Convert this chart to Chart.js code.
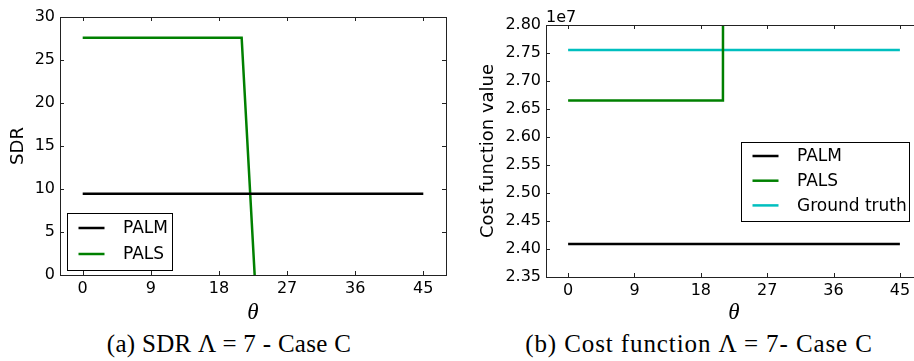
<!DOCTYPE html>
<html lang="en">
<head>
<meta charset="UTF-8">
<script src="https://cdn.jsdelivr.net/npm/chart.js"></script>
<title>SDR and cost function, Case C</title>
<style>
  html, body { margin: 0; padding: 0; background: #fff; }
  body { width: 914px; height: 361px; overflow: hidden; position: relative; }
  canvas { position: absolute; top: 0; }
  #sdrChart { left: 0; }
  #costChart { left: 460px; }
  .caption { position: absolute; top: 330px; font-family: 'Liberation Serif', serif; font-size: 25px; white-space: nowrap; transform: translateX(-50%); }
</style>
</head>
<body>
<canvas id="sdrChart" width="460" height="330"></canvas>
<canvas id="costChart" width="480" height="330"></canvas>
<div class="caption" style="left:229px; letter-spacing:0.3px">(a) SDR &Lambda; = 7 - Case C</div>
<div class="caption" style="left:699px; letter-spacing:0.9px">(b) Cost function &Lambda; = 7- Case C</div>

<script>
// values
const theta = [0, 21, 23, 45];
const sdrPALM = [9.45, 9.45, 9.45, 9.45];
const sdrPALS = [27.6, 27.6, -4.5, -4.5];
// cost values in units of 1e7
const costPALM = [2.409, 2.409, 2.409, 2.409];
const costPALS = [2.665, 2.665, 40, 40];
const costTruth = [2.7555, 2.7555, 2.7555, 2.7555];

const thetaTicks = [0, 9, 18, 27, 36, 45];
const sdrTicks = [0, 5, 10, 15, 20, 25, 30];
const costTicks = [2.35, 2.40, 2.45, 2.50, 2.55, 2.60, 2.65, 2.70, 2.75, 2.80];

Chart.defaults.font.family = 'DejaVu Sans';
Chart.defaults.font.size = 16;
Chart.defaults.color = '#000';

const pts = (xs, ys) => xs.map((v, i) => ({x: v, y: ys[i]}));

// box around the plot + inward tick marks (matplotlib classic look)
const framePlugin = {
  id: 'frame',
  afterDatasetsDraw(chart, args, opts) {
    const {ctx, chartArea: a, scales: {x, y}} = chart;
    ctx.save();
    ctx.strokeStyle = '#222';
    ctx.lineWidth = 1;
    ctx.strokeRect(Math.round(a.left) + 0.5, Math.round(a.top) + 0.5,
                   Math.round(a.right - a.left), Math.round(a.bottom - a.top));
    ctx.beginPath();
    x.ticks.forEach(t => {
      const px = Math.round(x.getPixelForValue(t.value)) + 0.5;
      ctx.moveTo(px, a.bottom); ctx.lineTo(px, a.bottom - 4);
      ctx.moveTo(px, a.top); ctx.lineTo(px, a.top + 4);
    });
    y.ticks.forEach(t => {
      const py = Math.round(y.getPixelForValue(t.value)) + 0.5;
      ctx.moveTo(a.left, py); ctx.lineTo(a.left + 4, py);
      ctx.moveTo(a.right, py); ctx.lineTo(a.right - 4, py);
    });
    ctx.stroke();
    if (opts.offsetText) {
      ctx.fillStyle = '#000';
      ctx.font = '16px "DejaVu Sans"';
      ctx.textAlign = 'left';
      ctx.textBaseline = 'alphabetic';
      ctx.fillText(opts.offsetText, a.left, a.top - 3);
    }
    ctx.restore();
  }
};

// legend drawn inside the axes
const boxLegend = {
  id: 'boxLegend',
  afterDraw(chart, args, o) {
    const ctx = chart.ctx;
    ctx.save();
    ctx.fillStyle = '#fff';
    ctx.fillRect(o.left, o.top, o.width, o.height);
    ctx.strokeStyle = '#000';
    ctx.lineWidth = 1;
    ctx.strokeRect(o.left + 0.5, o.top + 0.5, o.width, o.height);
    ctx.font = '17px "DejaVu Sans"';
    ctx.textBaseline = 'middle';
    ctx.textAlign = 'left';
    chart.data.datasets.forEach((ds, i) => {
      const yy = o.top + o.firstRow + i * o.rowGap;
      ctx.strokeStyle = ds.borderColor;
      ctx.lineWidth = 2.5;
      ctx.beginPath();
      ctx.moveTo(o.left + 11.5, yy);
      ctx.lineTo(o.left + 37.5, yy);
      ctx.stroke();
      ctx.fillStyle = '#000';
      ctx.fillText(ds.label, o.left + 56, yy + 1);
    });
    ctx.restore();
  }
};

function lineSet(label, xs, ys, color) {
  return {label: label, data: pts(xs, ys), borderColor: color, borderWidth: 2.5,
          pointRadius: 0, tension: 0, fill: false};
}

function axes(yTicks, yMin, yMax, yTitle, yWidth, yTitlePad, xHeight, fmt) {
  return {
    x: {
      type: 'linear', min: -3, max: 48,
      afterBuildTicks: s => { s.ticks = thetaTicks.map(v => ({value: v})); },
      afterFit: s => { s.height = xHeight; },
      grid: {display: false, drawTicks: false},
      border: {display: false},
      ticks: {padding: 4, maxRotation: 0, autoSkip: false},
      title: {display: true, text: 'θ', padding: {top: 0, bottom: 3},
              font: {family: 'Liberation Serif', style: 'italic', size: 23}}
    },
    y: {
      type: 'linear', min: yMin, max: yMax,
      afterBuildTicks: s => { s.ticks = yTicks.map(v => ({value: v})); },
      afterFit: s => { s.width = yWidth; },
      grid: {display: false, drawTicks: false},
      border: {display: false},
      ticks: {padding: 5, autoSkip: false, callback: fmt},
      title: {display: true, text: yTitle, padding: {top: yTitlePad, bottom: 0},
              font: {size: 18}}
    }
  };
}

new Chart(document.getElementById('sdrChart'), {
  type: 'line',
  data: {
    datasets: [
      lineSet('PALM', theta, sdrPALM, '#000000'),
      lineSet('PALS', theta, sdrPALS, '#008000')
    ]
  },
  options: {
    responsive: false,
    animation: false,
    layout: {padding: {top: 17, right: 14, bottom: 0, left: 0}},
    scales: axes(sdrTicks, 0, 30, 'SDR', 60, 8, 55, v => v),
    plugins: {
      legend: {display: false},
      tooltip: {enabled: false},
      frame: {},
      boxLegend: {left: 67, top: 213, width: 105, height: 57, firstRow: 15, rowGap: 26}
    }
  },
  plugins: [framePlugin, boxLegend]
});

new Chart(document.getElementById('costChart'), {
  type: 'line',
  data: {
    datasets: [
      lineSet('PALM', theta, costPALM, '#000000'),
      lineSet('PALS', theta, costPALS, '#008000'),
      lineSet('Ground truth', theta, costTruth, '#00bfbf')
    ]
  },
  options: {
    responsive: false,
    animation: false,
    layout: {padding: {top: 25, right: 18, bottom: 0, left: 0}},
    scales: axes(costTicks, 2.35, 2.80, 'Cost function value', 86, 18, 53, v => v.toFixed(2)),
    plugins: {
      legend: {display: false},
      tooltip: {enabled: false},
      frame: {offsetText: '1e7'},
      boxLegend: {left: 281, top: 142, width: 168, height: 79, firstRow: 14, rowGap: 24.7}
    }
  },
  plugins: [framePlugin, boxLegend]
});
</script>
</body>
</html>
